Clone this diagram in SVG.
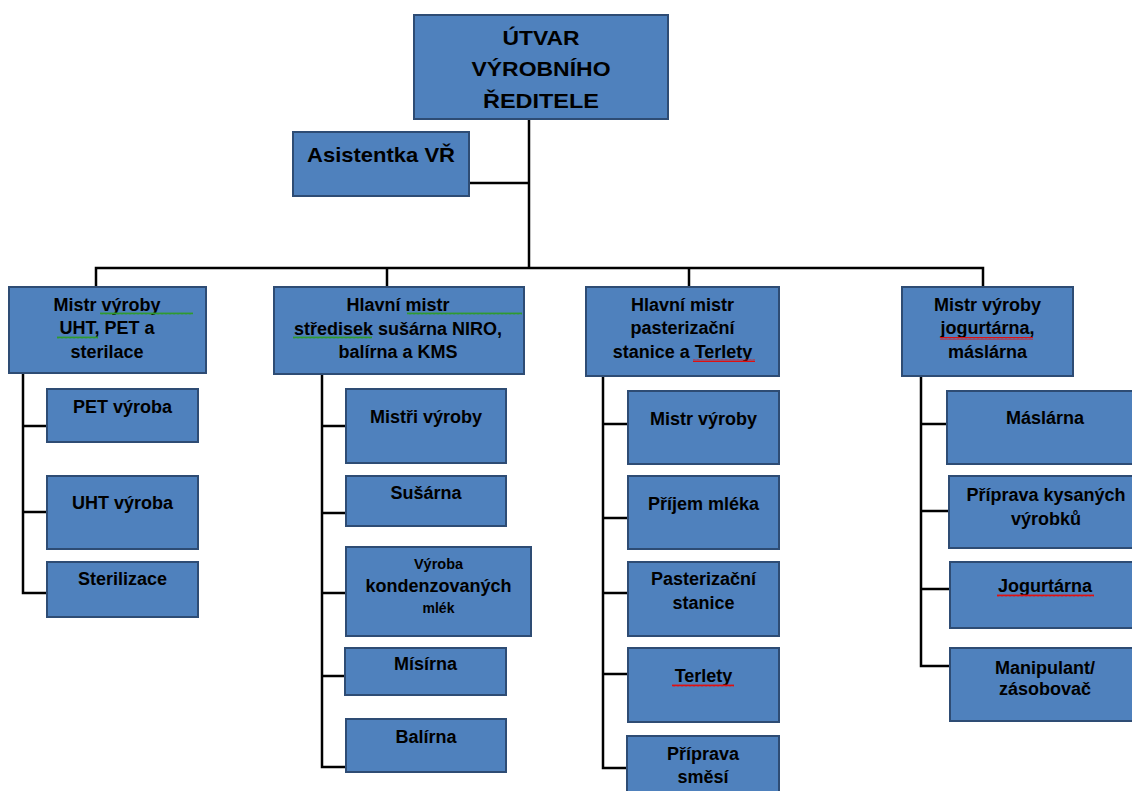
<svg xmlns="http://www.w3.org/2000/svg" width="1132" height="791" viewBox="0 0 1132 791">
<style>
.box{fill:#4F81BD;stroke:#2E4C74;stroke-width:2}
.t{font-family:"Liberation Sans",Arial,sans-serif;font-weight:bold;font-size:18px;fill:#000;text-anchor:middle}
.c{fill:none;stroke:#000;stroke-width:2.5}
.sq-g{fill:url(#wavyG)}
.sq-r{fill:url(#wavyR)}
</style>
<defs>
<pattern id="wavyG" width="4" height="3" patternUnits="userSpaceOnUse"><path d="M0,2.5 L1,0.5 L2,2.5 L3,0.5 L4,2.5" fill="none" stroke="#2f9a2f" stroke-width="1"/></pattern>
<pattern id="wavyR" width="4" height="3" patternUnits="userSpaceOnUse"><path d="M0,2.5 L1,0.5 L2,2.5 L3,0.5 L4,2.5" fill="none" stroke="#e01010" stroke-width="1"/></pattern>
</defs>
<rect width="1132" height="791" fill="#fff"/>
<g id="connectors">
<path class="c" d="M529,119 V268"/>
<path class="c" d="M469,183 H529"/>
<path class="c" d="M96,287 V268 H983 V287"/>
<path class="c" d="M387,268 V287"/>
<path class="c" d="M689,268 V287"/>
<path class="c" d="M23,373 V593 H47 M23,426 H47 M23,512 H47"/>
<path class="c" d="M322,374 V767 H346 M322,426 H346 M322,513 H346 M322,593 H346 M322,676 H345"/>
<path class="c" d="M603,376 V768 H627 M603,424 H628 M603,518 H628 M603,593 H628 M603,674 H628"/>
<path class="c" d="M921,376 V666 H950 M921,424 H947 M921,511 H949 M921,589 H950"/>
</g>
<g id="top">
<rect class="box" x="414" y="15" width="254" height="104"/>
<text class="t" x="541" y="45" textLength="77" lengthAdjust="spacingAndGlyphs" style="font-size:21px">ÚTVAR</text>
<text class="t" x="541" y="76" textLength="139" lengthAdjust="spacingAndGlyphs" style="font-size:21px">VÝROBNÍHO</text>
<text class="t" x="541" y="108" textLength="116" lengthAdjust="spacingAndGlyphs" style="font-size:21px">ŘEDITELE</text>
</g>
<g id="asistentka">
<rect class="box" x="293" y="132" width="176" height="64"/>
<text class="t" x="381" y="162" textLength="148" lengthAdjust="spacingAndGlyphs" style="font-size:21px">Asistentka VŘ</text>
</g>
<g id="col1-head">
<rect class="box" x="9" y="287" width="197" height="86"/>
<text class="t" x="107" y="311">Mistr výroby</text>
<text class="t" x="107" y="334">UHT, PET a</text>
<text class="t" x="107" y="358">sterilace</text>
<rect class="sq-g" x="100" y="312" width="93" height="3"/>
<rect class="sq-g" x="57" y="336" width="41" height="3"/>
</g>
<g id="col1-pet">
<rect class="box" x="47" y="389" width="151" height="53"/>
<text class="t" x="122.5" y="413">PET výroba</text>
</g>
<g id="col1-uht">
<rect class="box" x="47" y="476" width="151" height="73"/>
<text class="t" x="122.5" y="509">UHT výroba</text>
</g>
<g id="col1-steril">
<rect class="box" x="47" y="562" width="151" height="55"/>
<text class="t" x="122.5" y="585">Sterilizace</text>
</g>
<g id="col2-head">
<rect class="box" x="274" y="287" width="250" height="87"/>
<text class="t" x="398" y="311">Hlavní mistr</text>
<text class="t" x="398" y="335">středisek sušárna NIRO,</text>
<text class="t" x="398" y="358">balírna a KMS</text>
<rect class="sq-g" x="407" y="312" width="115" height="3"/>
<rect class="sq-g" x="293" y="336" width="79" height="3"/>
</g>
<g id="col2-mistri">
<rect class="box" x="346" y="389" width="160" height="74"/>
<text class="t" x="426" y="423">Mistři výroby</text>
</g>
<g id="col2-susarna">
<rect class="box" x="346" y="476" width="160" height="50"/>
<text class="t" x="426" y="499">Sušárna</text>
</g>
<g id="col2-kondenz">
<rect class="box" x="346" y="547" width="185" height="89"/>
<text class="t" x="438.5" y="569" style="font-size:14.5px">Výroba</text>
<text class="t" x="438.5" y="592">kondenzovaných</text>
<text class="t" x="438.5" y="613" style="font-size:14px">mlék</text>
</g>
<g id="col2-misirna">
<rect class="box" x="345" y="648" width="161" height="47"/>
<text class="t" x="425.5" y="670">Mísírna</text>
</g>
<g id="col2-balirna">
<rect class="box" x="346" y="719" width="160" height="53"/>
<text class="t" x="426" y="743">Balírna</text>
</g>
<g id="col3-head">
<rect class="box" x="586" y="287" width="193" height="89"/>
<text class="t" x="682.5" y="311">Hlavní mistr</text>
<text class="t" x="682.5" y="334">pasterizační</text>
<text class="t" x="682.5" y="358">stanice a Terlety</text>
<rect class="sq-r" x="693" y="359" width="62" height="3"/>
</g>
<g id="col3-mistr">
<rect class="box" x="628" y="391" width="151" height="73"/>
<text class="t" x="703.5" y="425">Mistr výroby</text>
</g>
<g id="col3-prijem">
<rect class="box" x="628" y="476" width="151" height="73"/>
<text class="t" x="703.5" y="510">Příjem mléka</text>
</g>
<g id="col3-pasteriz">
<rect class="box" x="628" y="562" width="151" height="74"/>
<text class="t" x="703.5" y="585">Pasterizační</text>
<text class="t" x="703.5" y="609">stanice</text>
</g>
<g id="col3-terlety">
<rect class="box" x="628" y="648" width="151" height="74"/>
<text class="t" x="703.5" y="682">Terlety</text>
<rect class="sq-r" x="672" y="684" width="62" height="3"/>
</g>
<g id="col3-smesi">
<rect class="box" x="627" y="736" width="152" height="70"/>
<text class="t" x="703" y="760">Příprava</text>
<text class="t" x="703" y="783">směsí</text>
</g>
<g id="col4-head">
<rect class="box" x="902" y="287" width="171" height="89"/>
<text class="t" x="987.5" y="311">Mistr výroby</text>
<text class="t" x="987.5" y="334">jogurtárna,</text>
<text class="t" x="987.5" y="358">máslárna</text>
<rect class="sq-r" x="940" y="337" width="93" height="3"/>
</g>
<g id="col4-maslarna">
<rect class="box" x="947" y="391" width="200" height="73"/>
<text class="t" x="1045" y="424">Máslárna</text>
</g>
<g id="col4-kysane">
<rect class="box" x="949" y="476" width="200" height="72"/>
<text class="t" x="1046" y="501">Příprava kysaných</text>
<text class="t" x="1046" y="525">výrobků</text>
</g>
<g id="col4-jogurtarna">
<rect class="box" x="950" y="562" width="200" height="66"/>
<text class="t" x="1045" y="592">Jogurtárna</text>
<rect class="sq-r" x="997" y="594" width="97" height="3"/>
</g>
<g id="col4-manipulant">
<rect class="box" x="950" y="648" width="200" height="73"/>
<text class="t" x="1045" y="674">Manipulant/</text>
<text class="t" x="1045" y="695">zásobovač</text>
</g>
</svg>
